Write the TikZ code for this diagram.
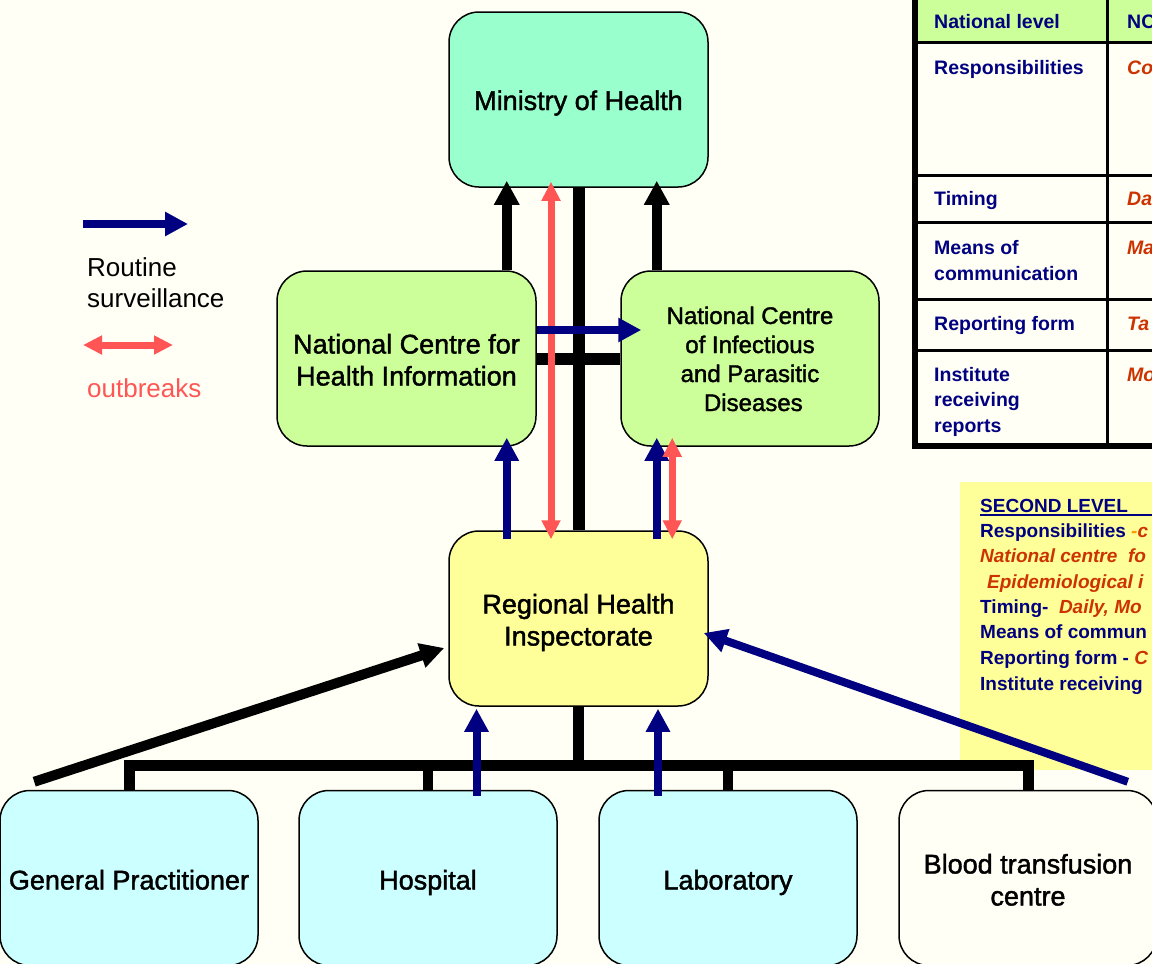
\documentclass[tikz,border=0pt]{standalone}
\usepackage{fontspec}
\setmainfont{Liberation Sans}
\newfontfamily\boxfont[BoldFont={Liberation Sans},BoldFeatures={FakeBold=1.6}]{Liberation Sans}
\usetikzlibrary{arrows.meta,calc}
\definecolor{bgc}{HTML}{FFFFF5}
\definecolor{mint}{HTML}{99FFCC}
\definecolor{lgreen}{HTML}{CCFF99}
\definecolor{lyellow}{HTML}{FFFF99}
\definecolor{lcyan}{HTML}{CCFFFF}
\definecolor{navy}{HTML}{000080}
\definecolor{redarrow}{HTML}{FF5555}
\definecolor{redtext}{HTML}{CC3300}
\definecolor{orangetext}{HTML}{FF9900}
\begin{document}
\begin{tikzpicture}[x=1pt,y=-1pt,
  box/.style={draw=black, line width=1.5pt, rounded corners=30pt, minimum width=259pt, minimum height=175pt, inner sep=0pt, align=center, text depth=0pt, font=\boxfont\bfseries\fontsize{27}{32}\selectfont},
  blkarr/.style={line width=10pt, black, -{Triangle[width=24pt,length=24pt]}},
  navyarr/.style={line width=8pt, navy, -{Triangle[width=23pt,length=23pt]}},
  redarr/.style={line width=7pt, redarrow, {Triangle[width=18pt,length=19pt]}-{Triangle[width=18pt,length=19pt]}},
  bus/.style={line width=11pt, black},
  tbl/.style={anchor=base west, inner sep=0pt, text=navy, font=\bfseries\fontsize{19.5}{25}\selectfont},
  tblred/.style={anchor=base west, inner sep=0pt, text=redtext, font=\bfseries\itshape\fontsize{19.5}{25}\selectfont},
  ytxt/.style={anchor=base west, inner sep=0pt, text=navy, font=\bfseries\fontsize{19}{25}\selectfont},
  yred/.style={ytxt, text=redtext, font=\bfseries\itshape\fontsize{19}{25}\selectfont},
  legtxt/.style={anchor=base west, inner sep=0pt, font=\fontsize{26}{31}\selectfont}
]
\useasboundingbox (0,0) rectangle (1152,964);
\fill[bgc] (0,0) rectangle (1152,964);
\begin{scope}
\clip (0,0) rectangle (1152,964);

% ---- table (top right)
\fill[lgreen] (915,0) rectangle (1152,42);
\draw[line width=3.5pt] (915,42.5) -- (1152,42.5);
\foreach \yy in {175,222,299,350} \draw[line width=3pt] (915,\yy) -- (1152,\yy);
\draw[line width=3pt] (1107,0) -- (1107,445);
\draw[line width=6pt] (914.5,-5) -- (914.5,445.5) -- (1160,445.5);
\node[tbl] (t1) at (934,28) {National level};
\node[tbl] (t2) at (934,74) {Responsibilities};
\node[tbl] (t3) at (934,205) {Timing};
\node[tbl] (t4a) at (934,254) {Means of};
\node[tbl] (t4b) at (934,280) {communication};
\node[tbl] (t5) at (934,330) {Reporting form};
\node[tbl] (t6a) at (934,381) {Institute};
\node[tbl] (t6b) at (934,406) {receiving};
\node[tbl] (t6c) at (934,432) {reports};
\node[tbl] (t7) at (1127,28) {NC};
\node[tblred] (t8) at (1127,74) {Co};
\node[tblred] (t9) at (1127,205) {Da};
\node[tblred] (t10) at (1127,254) {Ma};
\node[tblred] (t11) at (1127,330) {Ta};
\node[tblred] (t12) at (1127,381) {Mo};

% ---- yellow text box
\fill[lyellow] (960,482) rectangle (1152,770);
\node[ytxt] (y1) at (980,512) {SECOND LEVEL};
\draw[navy, line width=2pt] (980,515) -- (1152,515);
\node[ytxt] (y2) at (980,537) {Responsibilities \textcolor{orangetext}{\itshape -}\textcolor{redtext}{\itshape c}};
\node[yred] (y3) at (980,562) {National centre\ \ fo};
\node[yred] (y4) at (987,588) {Epidemiological i};
\node[ytxt] (y5) at (980,613) {Timing-\ \ \textcolor{redtext}{\itshape Daily, Mo}};
\node[ytxt] (y6) at (980,638) {Means of commun};
\node[ytxt] (y7) at (980,664) {Reporting form - \textcolor{redtext}{\itshape C}};
\node[ytxt] (y8) at (980,690) {Institute receiving};

% ---- legend
\coordinate (la1) at (83,224);
\coordinate (la2) at (188,224);
\draw[navyarr] (la1) -- (la2);
\node[legtxt] (lt1) at (87,276) {Routine};
\node[legtxt] (lt1b) at (87,307) {surveillance};
\coordinate (lb1) at (83,345);
\coordinate (lb2) at (173,345);
\draw[redarr] (lb1) -- (lb2);
\node[legtxt, text=redarrow] (lt2) at (87,397) {outbreaks};

% ---- boxes
\node[box, fill=mint, text height=21pt] (moh) at (578.5,99.5) {Ministry of Health};
\node[box, fill=lgreen, text height=54pt] (nchi) at (406.5,358.5) {National Centre for\\Health Information};
\node[box, fill=lgreen, minimum width=258pt, text height=105pt, font=\boxfont\bfseries\fontsize{24}{29}\selectfont] (ncipd) at (750,358.5) {National Centre\\of Infectious\\and Parasitic\\\ Diseases};
\node[box, fill=lyellow, text height=54pt] (rhi) at (578.5,618.5) {Regional Health\\Inspectorate};
\node[box, fill=lcyan, minimum width=258pt, text height=23pt] (gp) at (129,878) {General Practitioner};
\node[box, fill=lcyan, minimum width=258pt, text height=23pt] (hosp) at (428,878) {Hospital};
\node[box, fill=lcyan, minimum width=258pt, text height=23pt] (lab) at (728,878) {Laboratory};
\node[box, fill=bgc, minimum width=258pt, text height=55pt] (blood) at (1028,878) {Blood transfusion\\centre};

% ---- connectors, national level
\draw[bus, line width=12pt] (moh.south) -- (rhi.north);
\draw[bus, line width=12pt] (nchi.east) -- (ncipd.west);
\coordinate (a1) at ($(nchi.north east)+(-30,0)$);
\coordinate (a2) at ($(ncipd.north west)+(36.5,0)$);
\coordinate (a3) at ($(ncipd.south west)+(52,0)$);
\coordinate (r1) at ($(moh.south)+(-27.5,0)$);
\draw[blkarr, shorten >=-7pt] (a1) -- (a1 |- moh.south);
\draw[blkarr, shorten >=-7pt] (a2) -- (a2 |- moh.south);
\draw[redarr, shorten <=-6pt, shorten >=-9pt] (r1) -- (r1 |- rhi.north);
\coordinate (h1) at ($(nchi.east)+(0,-28.5)$);
\draw[navyarr, shorten >=-21pt] (h1) -- (h1 -| ncipd.west);
\draw[navyarr, shorten <=-9pt, shorten >=-9pt] (a1 |- rhi.north) -- (a1 |- nchi.south);
\draw[navyarr, shorten <=-9pt, shorten >=-9pt] (a2 |- rhi.north) -- (a2 |- ncipd.south);
\draw[redarr, shorten <=-9pt, shorten >=-9pt] (a3 |- ncipd.south) -- (a3 |- rhi.north);

% ---- connectors, local level
\coordinate (busy) at ($(gp.north)+(0,-24)$);
\draw[bus] (rhi.south) -- (rhi.south |- busy);
\draw[bus] (gp.north) -- (busy) -- (busy -| blood.north) -- (blood.north);
\draw[bus, line width=10pt] (hosp.north) -- (hosp.north |- busy);
\draw[bus, line width=10pt] (lab.north) -- (lab.north |- busy);
\coordinate (b1) at ($(hosp.north)+(48.5,0)$);
\coordinate (b2) at ($(lab.north)+(-70,0)$);
\draw[navyarr, shorten <=-6pt, shorten >=2pt] (b1) -- (b1 |- rhi.south);
\draw[navyarr, shorten <=-6pt, shorten >=2pt] (b2) -- (b2 |- rhi.south);
\coordinate (g1) at ($(gp.north west)+(35,-8)$);
\coordinate (g2) at ($(rhi.west)+(-4,29.5)$);
\draw[blkarr] (g1) -- (g2);
\coordinate (g3) at ($(blood.north east)+(-30,-8)$);
\coordinate (g4) at ($(rhi.east)+(-5,14.5)$);
\draw[navyarr] (g3) -- (g4);
\end{scope}
\end{tikzpicture}
\end{document}
